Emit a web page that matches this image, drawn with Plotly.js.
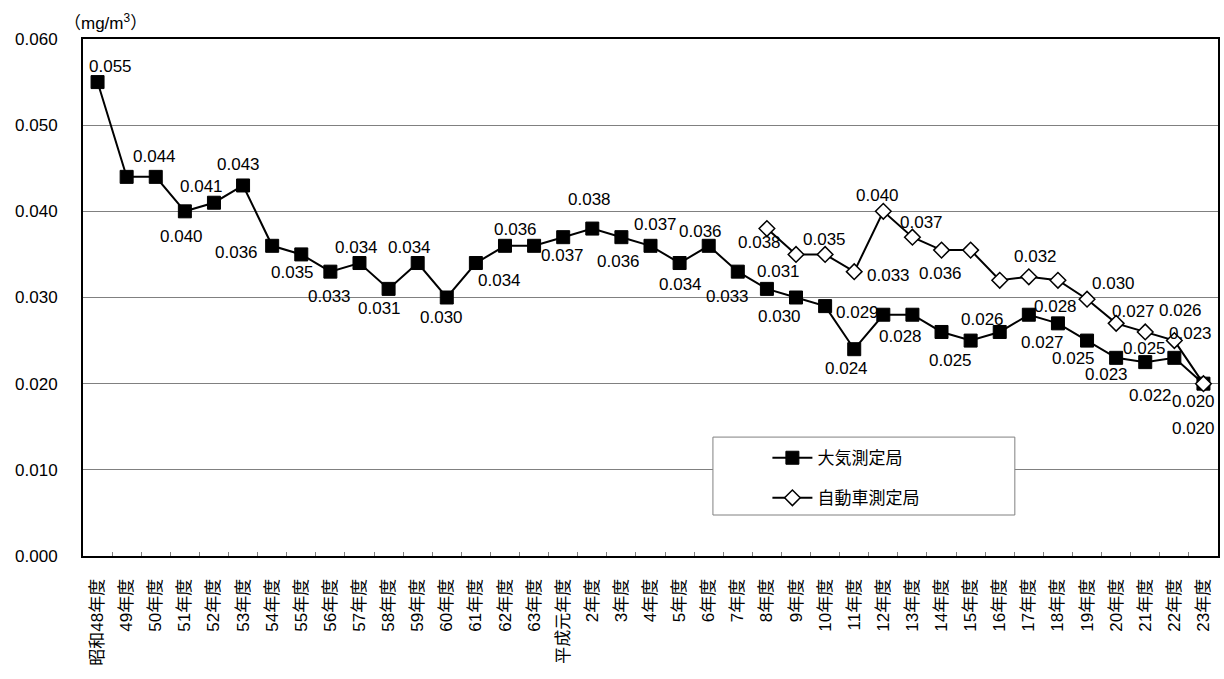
<!DOCTYPE html>
<html>
<head>
<meta charset="utf-8">
<script src="https://cdn.plot.ly/plotly-3.0.1.min.js"></script>
<style>html,body{margin:0;padding:0;background:#fff;}#chart{width:1224px;height:679px;}</style>
</head>
<body>
<div id="chart"></div>
<script>
// ---- data ----
const categories = ['昭和48年度','49年度','50年度','51年度','52年度','53年度','54年度','55年度','56年度','57年度','58年度','59年度','60年度','61年度','62年度','63年度','平成元年度','2年度','3年度','4年度','5年度','6年度','7年度','8年度','9年度','10年度','11年度','12年度','13年度','14年度','15年度','16年度','17年度','18年度','19年度','20年度','21年度','22年度','23年度'];

const seriesNames = ['大気測定局', '自動車測定局'];

const taikiValues = [0.055,0.044,0.044,0.040,0.041,0.043,0.036,0.035,0.033,0.034,0.031,0.034,0.030,0.034,0.036,0.036,0.037,0.038,0.037,0.036,0.034,0.036,0.033,0.031,0.030,0.029,0.024,0.028,0.028,0.026,0.025,0.026,0.028,0.027,0.025,0.023,0.0225,0.023,0.020];

const jidoushaValues = [null,null,null,null,null,null,null,null,null,null,null,null,null,null,null,null,null,null,null,null,null,null,null,0.038,0.035,0.035,0.033,0.040,0.037,0.0355,0.0355,0.032,0.0324,0.032,0.0298,0.027,0.026,0.025,0.020];

// data labels as printed in the original ('' = no label)
const taikiLabels = ['0.055','','0.044','0.040','0.041','0.043','0.036','0.035','0.033','0.034','0.031','0.034','0.030','0.034','0.036','','0.037','0.038','0.036','0.037','0.034','0.036','0.033','0.031','0.030','0.029','0.024','0.028','','','0.025','0.026','0.028','0.027','0.025','0.023','0.022','0.023','0.020'];

const jidoushaLabels = ['','','','','','','','','','','','','','','','','','','','','','','','0.038','','0.035','0.033','0.040','0.037','0.036','','','0.032','','0.030','0.027','0.026','0.025','0.020'];

// ---- label offsets from their point, in px (style only) ----
const taikiDx = [13,0,-1,-3,-12,-5,-36,-9,-1,-3,-9,-8,-5,24,11,0,-1,-3,-3,5,1,-8,-10,12,-17,32,-8,17,0,0,-20,-17,27,-15,-14,-10,5,16,-10];
const taikiDy = [-16,0,-20,25,-16,-21,7,18,25,-16,20,-16,20,17,-16,0,18,-29,24,-21,21,-14,25,-17,19,6,19,22,0,0,20,-12,-8,19,18,17,33,-24,45];
const jidoushaDx = {23:-7,25:-1,26:34,27:-6,28:9,29:-1,32:7,34:26,35:17,36:35,37:-30,38:-10};
const jidoushaDy = {23:14,25:-15,26:4,27:-16,28:-15,29:23,32:-20,34:-16,35:-12,36:-21,37:8,38:18};

const FONT = 'Liberation Sans, Arial, "Noto Sans CJK JP", sans-serif';
const FS = 17;

const traces = [
  {
    type: 'scatter', mode: 'lines+markers',
    name: seriesNames[0], legendgroup: 'a',
    x: categories, y: taikiValues,
    line: {color: '#000', width: 2},
    marker: {symbol: 'square', size: 13, color: '#000', line: {color: '#000', width: 1}},
    cliponaxis: false, hoverinfo: 'x+y'
  },
  {
    type: 'scatter', mode: 'lines+markers',
    name: seriesNames[1], legendgroup: 'b',
    x: categories, y: jidoushaValues,
    line: {color: '#000', width: 2},
    marker: {symbol: 'diamond', size: 12, color: '#fff', line: {color: '#000', width: 1.5}},
    cliponaxis: false, hoverinfo: 'x+y', connectgaps: false
  }
];

const annotations = [];
function addLabels(values, labels, dx, dy) {
  values.forEach((v, i) => {
    if (v === null || !labels[i]) return;
    annotations.push({
      xref: 'x', yref: 'y', x: categories[i], y: v,
      text: labels[i], showarrow: false,
      xanchor: 'center', yanchor: 'middle',
      xshift: dx[i] || 0, yshift: -(dy[i] || 0),
      font: {family: FONT, size: FS, color: '#000'}
    });
  });
}
addLabels(taikiValues, taikiLabels, taikiDx, taikiDy);
addLabels(jidoushaValues, jidoushaLabels, jidoushaDx, jidoushaDy);

annotations.push({
  xref: 'paper', yref: 'paper', x: -0.0185, y: 1.033,
  xanchor: 'left', yanchor: 'middle', showarrow: false,
  text: '（mg/m<sup>3</sup>）',
  font: {family: FONT, size: FS, color: '#000'}
});

const layout = {
  width: 1224, height: 679,
  margin: {l: 83, r: 6, t: 39, b: 123},
  paper_bgcolor: '#fff', plot_bgcolor: '#fff',
  font: {family: FONT, size: FS, color: '#000'},
  showlegend: true,
  legend: {
    x: 0.603, y: 0.224, xanchor: 'left', yanchor: 'top',
    bgcolor: 'rgba(0,0,0,0)', borderwidth: 0,
    font: {family: FONT, size: FS, color: '#000'},
    traceorder: 'grouped', tracegroupgap: 15, itemwidth: 40
  },
  xaxis: {
    type: 'category', range: [-0.5, 38.5],
    tickangle: -90, ticks: 'inside', tickson: 'boundaries', ticklen: 4, tickcolor: '#808080',
    showline: true, mirror: true, linecolor: '#000', linewidth: 2,
    showgrid: false, zeroline: false,
    tickfont: {family: FONT, size: FS, color: '#000'},
    ticklabelstandoff: 14
  },
  yaxis: {
    range: [0, 0.06], dtick: 0.01, tick0: 0, tickformat: '.3f',
    showgrid: true, gridcolor: '#808080', gridwidth: 1,
    showline: true, mirror: true, linecolor: '#000', linewidth: 2,
    ticks: '', zeroline: false,
    tickfont: {family: FONT, size: FS, color: '#000'},
    ticklabelstandoff: 20
  },
  shapes: [{
    type: 'rect', xref: 'paper', yref: 'paper',
    x0: 0.555, x1: 0.821, y0: 0.0793, y1: 0.230,
    line: {color: '#808080', width: 1}, fillcolor: '#fff', layer: 'above'
  }],
  annotations: annotations
};

Plotly.newPlot('chart', traces, layout, {displayModeBar: false, staticPlot: true});
</script>
</body>
</html>
